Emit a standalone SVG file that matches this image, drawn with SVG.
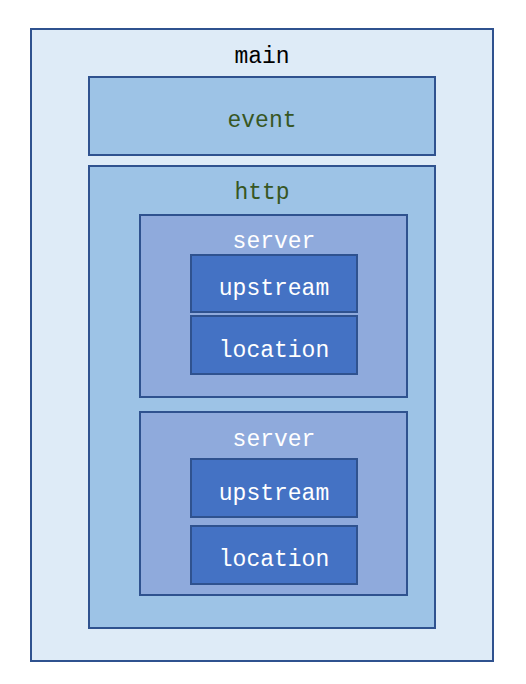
<svg xmlns="http://www.w3.org/2000/svg" width="526" height="684" viewBox="0 0 526 684">
<style>
.b{stroke:#2F528F;stroke-width:2}
text{font-family:"Liberation Mono","DejaVu Sans Mono",monospace;font-size:23px;text-anchor:middle}
.l1{fill:#DEEBF7}
.l2{fill:#9DC3E6}
.l3{fill:#8FAADC}
.l4{fill:#4472C4}
.tk{fill:#000000}
.tg{fill:#375623}
.tw{fill:#FFFFFF}
</style>
<rect width="526" height="684" fill="#FFFFFF"/>
<g id="main"><rect class="b l1" x="31" y="29" width="462" height="632"/><text class="tk" x="262" y="63">main</text></g>
<g id="event"><rect class="b l2" x="89" y="77" width="346" height="78"/><text class="tg" x="262" y="127">event</text></g>
<g id="http"><rect class="b l2" x="89" y="166" width="346" height="462"/><text class="tg" x="262" y="199">http</text></g>
<g id="server1"><rect class="b l3" x="140" y="215" width="267" height="182"/><text class="tw" x="274" y="248">server</text></g>
<g id="upstream1"><rect class="b l4" x="191" y="255" width="166" height="57"/><text class="tw" x="274" y="295">upstream</text></g>
<g id="location1"><rect class="b l4" x="191" y="316" width="166" height="58"/><text class="tw" x="274" y="357">location</text></g>
<g id="server2"><rect class="b l3" x="140" y="412" width="267" height="183"/><text class="tw" x="274" y="446">server</text></g>
<g id="upstream2"><rect class="b l4" x="191" y="459" width="166" height="58"/><text class="tw" x="274" y="500">upstream</text></g>
<g id="location2"><rect class="b l4" x="191" y="526" width="166" height="58"/><text class="tw" x="274" y="566">location</text></g>
<g id="connectors"></g>
</svg>
